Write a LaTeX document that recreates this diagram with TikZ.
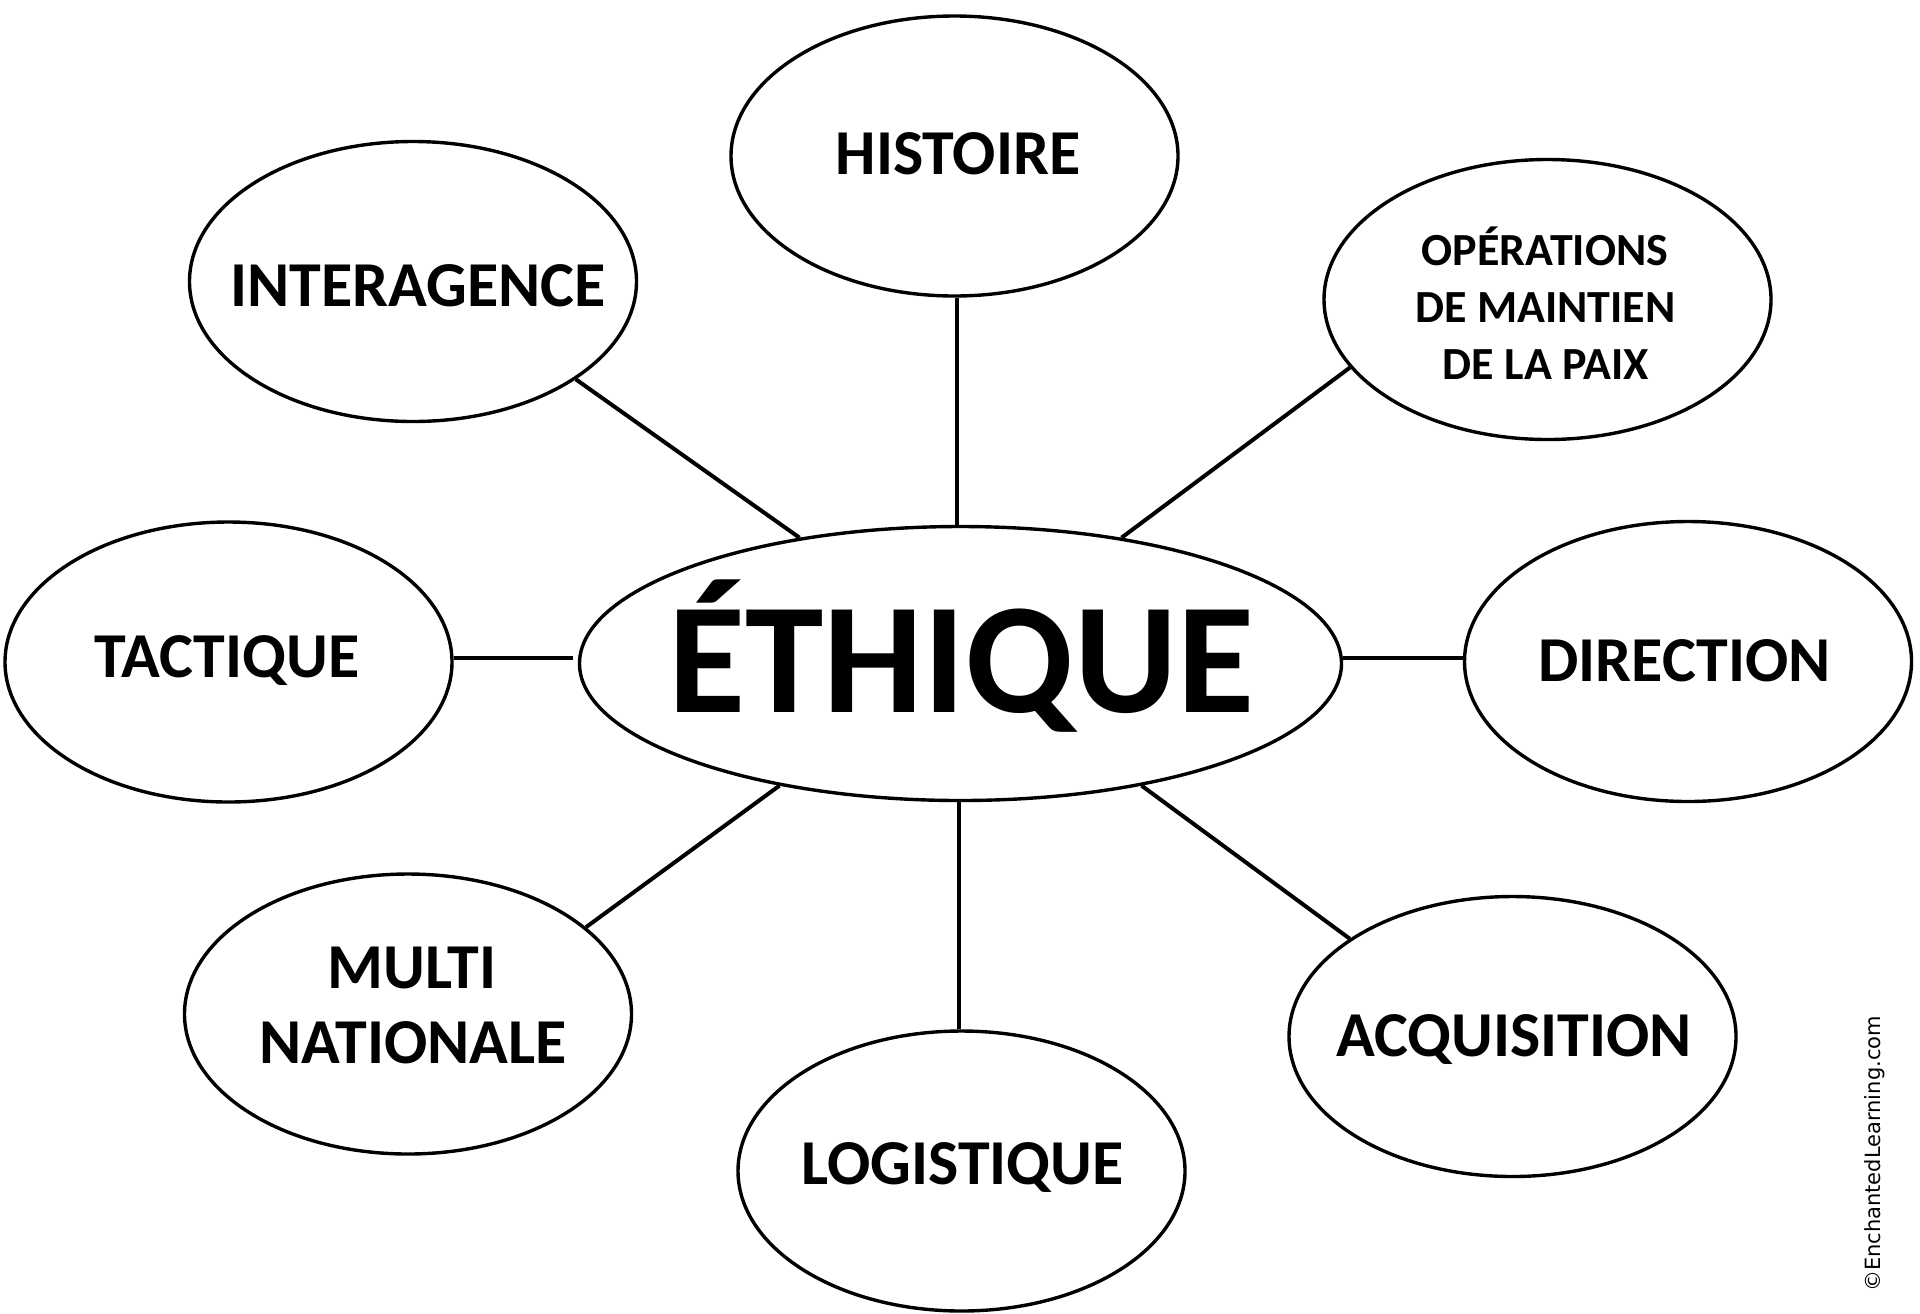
\documentclass[tikz,border=0pt]{standalone}
\usepackage{fontspec}
\setmainfont{Carlito}
\newfontfamily\credfont{DejaVu Sans}
\usetikzlibrary{shapes.geometric}
\begin{document}
\begin{tikzpicture}[x=0.5pt,y=-0.5pt,
  bubble/.style={ellipse, draw=black, fill=white, line width=1.7pt, minimum width=223.5pt, minimum height=140pt, inner sep=0pt},
  link/.style={line width=2pt},
  lbl/.style={anchor=base, inner sep=0pt, font=\fontsize{32}{38}\selectfont\bfseries},
  smalllbl/.style={anchor=base, inner sep=0pt, font=\fontsize{23}{28}\selectfont\bfseries},
  biglbl/.style={anchor=base, inner sep=0pt, font=\fontsize{79}{90}\selectfont\bfseries}]
\useasboundingbox (0,0) rectangle (1920,1313);

% bubbles
\node[bubble, minimum width=381pt, minimum height=137pt] (c) at (960.5,663.5) {};
\node[bubble] (h) at (954.5,156) {};
\node[bubble] (i) at (413,281.5) {};
\node[bubble] (o) at (1547.5,299.5) {};
\node[bubble] (t) at (228.5,662) {};
\node[bubble] (d) at (1688,661.5) {};
\node[bubble] (m) at (408,1014) {};
\node[bubble] (l) at (961.5,1171) {};
\node[bubble] (a) at (1512.5,1036.5) {};

% connectors
\draw[link] (h.271.4) -- (h.271.4 |- c.north);
\draw[link] (l.91.4) -- (l.91.4 |- c.south);
\draw[link, shorten >=2.5pt] (t.1.3) -- (t.1.3 -| c.west);
\draw[link] (d.179.5) -- (d.179.5 -| c.east);
\draw[link] (i.-31) -- (c.142.3);
\draw[link] (o.199.6) -- (c.38.2);
\draw[link] (m.26.9) -- (c.214.2);
\draw[link] (a.149) -- (c.-34.2);

% labels
\node[biglbl] (tc) at (961.5,712) {ÉTHIQUE};
\node[lbl] (th) at (958,174) {HISTOIRE};
\node[lbl] (ti) at (418,306) {INTERAGENCE};
\node[smalllbl] (to1) at (1545,265) {OPÉRATIONS};
\node[smalllbl] (to2) at (1545.5,322) {DE MAINTIEN};
\node[smalllbl] (to3) at (1546,379) {DE LA PAIX};
\node[lbl] (tt) at (227,677) {TACTIQUE};
\node[lbl] (td) at (1684.5,681) {DIRECTION};
\node[lbl] (tm1) at (412,988) {MULTI};
\node[lbl] (tm2) at (413,1063) {NATIONALE};
\node[lbl] (tl) at (962.5,1184) {LOGISTIQUE};
\node[lbl] (ta) at (1514,1056) {ACQUISITION};

% credit
\node[rotate=90, inner sep=0pt, font=\credfont\fontsize{10.5}{12}\selectfont] (copy) at (1875,1154) {©EnchantedLearning.com};
\end{tikzpicture}
\end{document}
